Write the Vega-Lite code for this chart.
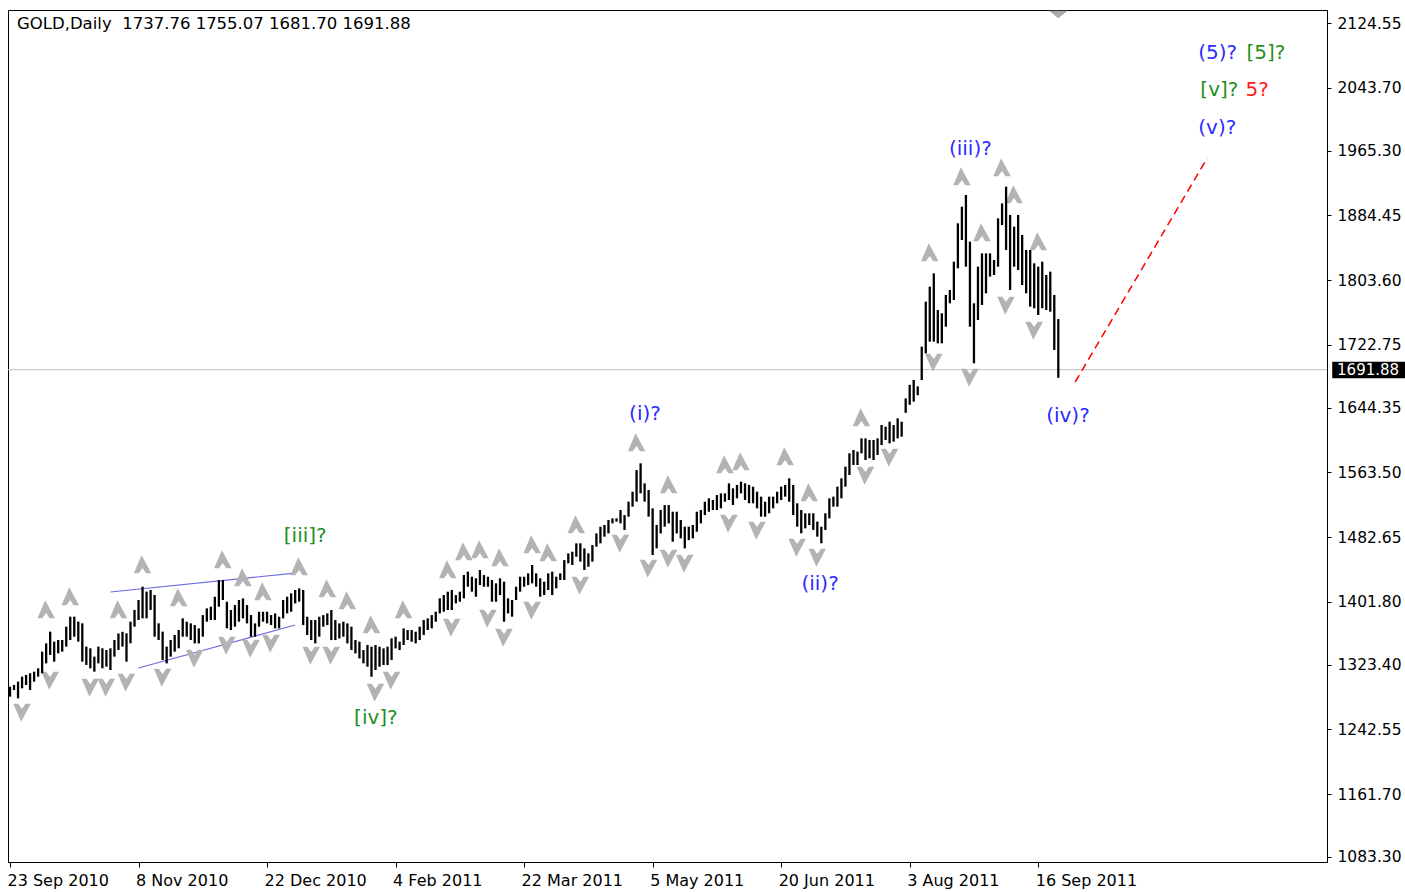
{
"$schema":"https://vega.github.io/schema/vega-lite/v6.json",
"width":1319,"height":852,"autosize":"none",
"padding":{"left":8,"top":10,"right":78,"bottom":30},
"background":"white",
"config":{"view":{"stroke":"#000","strokeWidth":1},"axis":{"grid":false,"domainColor":"#000","tickColor":"#000","labelColor":"#000","labelFont":"DejaVu Sans","labelFontSize":15}},
"datasets":{
"bars":[
{"i":0,"high":1296.0,"price":1283.5},{"i":1,"high":1298.1,"price":1291.8},{"i":2,"high":1302.3,"price":1281.4},{"i":3,"high":1308.5,"price":1293.9},{"i":4,"high":1310.6,"price":1298.1},{"i":5,"high":1312.7,"price":1291.8},{"i":6,"high":1314.7,"price":1302.3},{"i":7,"high":1318.9,"price":1308.5},{"i":8,"high":1339.7,"price":1312.7},{"i":9,"high":1350.1,"price":1325.1},
{"i":10,"high":1364.7,"price":1335.6},{"i":11,"high":1352.2,"price":1327.2},{"i":12,"high":1354.3,"price":1337.6},{"i":13,"high":1354.3,"price":1339.7},{"i":14,"high":1370.9,"price":1346.0},{"i":15,"high":1383.4,"price":1354.3},{"i":16,"high":1383.4,"price":1358.4},{"i":17,"high":1377.2,"price":1352.2},{"i":18,"high":1375.1,"price":1327.2},{"i":19,"high":1346.0,"price":1323.1},
{"i":20,"high":1343.9,"price":1318.9},{"i":21,"high":1333.5,"price":1314.7},{"i":22,"high":1346.0,"price":1325.1},{"i":23,"high":1343.9,"price":1318.9},{"i":24,"high":1341.8,"price":1321.0},{"i":25,"high":1343.9,"price":1316.8},{"i":26,"high":1354.3,"price":1333.5},{"i":27,"high":1362.4,"price":1341.8},{"i":28,"high":1364.5,"price":1346.0},{"i":29,"high":1362.6,"price":1327.2},
{"i":30,"high":1377.2,"price":1350.1},{"i":31,"high":1391.8,"price":1370.9},{"i":32,"high":1404.2,"price":1379.3},{"i":33,"high":1420.9,"price":1381.3},{"i":34,"high":1414.7,"price":1381.3},{"i":35,"high":1416.7,"price":1391.8},{"i":36,"high":1410.5,"price":1358.4},{"i":37,"high":1375.1,"price":1354.3},{"i":38,"high":1364.7,"price":1329.3},{"i":39,"high":1346.0,"price":1325.1},
{"i":40,"high":1354.3,"price":1333.5},{"i":41,"high":1360.5,"price":1339.7},{"i":42,"high":1366.8,"price":1343.9},{"i":43,"high":1381.3,"price":1358.4},{"i":44,"high":1377.1,"price":1358.4},{"i":45,"high":1375.0,"price":1354.2},{"i":46,"high":1372.9,"price":1350.0},{"i":47,"high":1368.8,"price":1350.0},{"i":48,"high":1385.4,"price":1358.4},{"i":49,"high":1393.8,"price":1377.1},
{"i":50,"high":1395.8,"price":1379.2},{"i":51,"high":1408.3,"price":1379.2},{"i":52,"high":1429.1,"price":1395.8},{"i":53,"high":1429.1,"price":1404.2},{"i":54,"high":1402.1,"price":1368.8},{"i":55,"high":1391.7,"price":1366.7},{"i":56,"high":1397.9,"price":1370.9},{"i":57,"high":1404.2,"price":1377.1},{"i":58,"high":1406.2,"price":1381.3},{"i":59,"high":1397.9,"price":1375.0},
{"i":60,"high":1385.4,"price":1358.4},{"i":61,"high":1375.0,"price":1358.4},{"i":62,"high":1389.6,"price":1370.9},{"i":63,"high":1389.6,"price":1377.1},{"i":64,"high":1389.6,"price":1375.0},{"i":65,"high":1385.4,"price":1372.9},{"i":66,"high":1387.5,"price":1368.8},{"i":67,"high":1383.3,"price":1368.8},{"i":68,"high":1404.2,"price":1381.3},{"i":69,"high":1408.3,"price":1387.5},
{"i":70,"high":1412.5,"price":1389.6},{"i":71,"high":1416.7,"price":1400.0},{"i":72,"high":1418.7,"price":1402.1},{"i":73,"high":1416.7,"price":1372.9},{"i":74,"high":1383.3,"price":1360.5},{"i":75,"high":1379.2,"price":1354.2},{"i":76,"high":1379.2,"price":1350.0},{"i":77,"high":1383.3,"price":1358.4},{"i":78,"high":1385.4,"price":1370.9},{"i":79,"high":1387.5,"price":1372.9},
{"i":80,"high":1391.7,"price":1354.2},{"i":81,"high":1379.2,"price":1354.2},{"i":82,"high":1375.0,"price":1356.3},{"i":83,"high":1377.1,"price":1358.4},{"i":84,"high":1375.0,"price":1350.0},{"i":85,"high":1370.9,"price":1341.7},{"i":86,"high":1354.2,"price":1337.5},{"i":87,"high":1352.1,"price":1331.3},{"i":88,"high":1341.7,"price":1325.1},{"i":89,"high":1348.0,"price":1320.9},
{"i":90,"high":1345.9,"price":1308.4},{"i":91,"high":1348.0,"price":1316.8},{"i":92,"high":1345.9,"price":1320.9},{"i":93,"high":1343.8,"price":1323.0},{"i":94,"high":1345.9,"price":1323.0},{"i":95,"high":1356.3,"price":1329.2},{"i":96,"high":1358.4,"price":1343.8},{"i":97,"high":1352.1,"price":1341.7},{"i":98,"high":1368.8,"price":1348.0},{"i":99,"high":1366.7,"price":1354.2},
{"i":100,"high":1366.7,"price":1352.1},{"i":101,"high":1364.6,"price":1350.0},{"i":102,"high":1370.9,"price":1354.2},{"i":103,"high":1379.2,"price":1360.5},{"i":104,"high":1381.3,"price":1366.7},{"i":105,"high":1385.4,"price":1368.8},{"i":106,"high":1389.6,"price":1377.1},{"i":107,"high":1406.3,"price":1387.5},{"i":108,"high":1410.4,"price":1389.6},{"i":109,"high":1414.6,"price":1391.7},
{"i":110,"high":1416.7,"price":1391.7},{"i":111,"high":1410.4,"price":1400.0},{"i":112,"high":1414.6,"price":1402.1},{"i":113,"high":1435.4,"price":1406.3},{"i":114,"high":1439.6,"price":1420.8},{"i":115,"high":1433.3,"price":1414.6},{"i":116,"high":1431.3,"price":1408.3},{"i":117,"high":1441.7,"price":1422.9},{"i":118,"high":1435.4,"price":1420.8},{"i":119,"high":1433.3,"price":1420.8},
{"i":120,"high":1429.2,"price":1402.1},{"i":121,"high":1425.0,"price":1402.1},{"i":122,"high":1431.3,"price":1410.4},{"i":123,"high":1427.1,"price":1377.1},{"i":124,"high":1406.3,"price":1387.5},{"i":125,"high":1404.2,"price":1383.4},{"i":126,"high":1420.8,"price":1404.2},{"i":127,"high":1433.3,"price":1414.6},{"i":128,"high":1433.3,"price":1420.8},{"i":129,"high":1437.5,"price":1422.9},
{"i":130,"high":1447.9,"price":1425.0},{"i":131,"high":1437.5,"price":1420.8},{"i":132,"high":1431.3,"price":1408.3},{"i":133,"high":1427.1,"price":1410.4},{"i":134,"high":1437.5,"price":1416.7},{"i":135,"high":1439.6,"price":1410.4},{"i":136,"high":1433.3,"price":1418.8},{"i":137,"high":1437.5,"price":1429.2},{"i":138,"high":1454.1,"price":1429.2},{"i":139,"high":1462.5,"price":1450.0},
{"i":140,"high":1464.5,"price":1447.9},{"i":141,"high":1475.0,"price":1458.3},{"i":142,"high":1475.0,"price":1452.1},{"i":143,"high":1468.7,"price":1441.7},{"i":144,"high":1462.5,"price":1445.8},{"i":145,"high":1472.9,"price":1452.1},{"i":146,"high":1487.4,"price":1470.8},{"i":147,"high":1495.8,"price":1475.0},{"i":148,"high":1497.9,"price":1483.3},{"i":149,"high":1504.1,"price":1487.4},
{"i":150,"high":1506.2,"price":1499.9},{"i":151,"high":1506.2,"price":1502.0},{"i":152,"high":1516.6,"price":1499.9},{"i":153,"high":1510.3,"price":1491.6},{"i":154,"high":1527.0,"price":1508.3},{"i":155,"high":1539.5,"price":1520.8},{"i":156,"high":1566.5,"price":1527.0},{"i":157,"high":1574.9,"price":1537.4},{"i":158,"high":1549.9,"price":1527.0},{"i":159,"high":1541.6,"price":1508.3},
{"i":160,"high":1518.7,"price":1460.4},{"i":161,"high":1497.9,"price":1468.7},{"i":162,"high":1516.6,"price":1487.4},{"i":163,"high":1522.8,"price":1495.8},{"i":164,"high":1522.8,"price":1499.9},{"i":165,"high":1514.5,"price":1477.0},{"i":166,"high":1514.5,"price":1487.4},{"i":167,"high":1504.1,"price":1481.2},{"i":168,"high":1495.8,"price":1468.7},{"i":169,"high":1495.8,"price":1479.1},
{"i":170,"high":1497.9,"price":1481.2},{"i":171,"high":1514.5,"price":1489.5},{"i":172,"high":1516.6,"price":1499.9},{"i":173,"high":1527.0,"price":1510.3},{"i":174,"high":1531.2,"price":1514.5},{"i":175,"high":1529.1,"price":1516.6},{"i":176,"high":1535.3,"price":1516.6},{"i":177,"high":1537.4,"price":1518.7},{"i":178,"high":1537.4,"price":1527.0},{"i":179,"high":1549.9,"price":1529.1},
{"i":180,"high":1543.7,"price":1522.9},{"i":181,"high":1547.9,"price":1531.2},{"i":182,"high":1552.0,"price":1537.4},{"i":183,"high":1549.9,"price":1529.1},{"i":184,"high":1547.9,"price":1525.0},{"i":185,"high":1545.8,"price":1525.0},{"i":186,"high":1539.5,"price":1518.7},{"i":187,"high":1533.3,"price":1508.3},{"i":188,"high":1527.0,"price":1508.3},{"i":189,"high":1533.3,"price":1512.5},
{"i":190,"high":1533.3,"price":1518.7},{"i":191,"high":1539.5,"price":1525.0},{"i":192,"high":1545.8,"price":1529.1},{"i":193,"high":1547.9,"price":1533.3},{"i":194,"high":1556.2,"price":1527.0},{"i":195,"high":1547.9,"price":1510.4},{"i":196,"high":1525.0,"price":1495.8},{"i":197,"high":1516.6,"price":1487.5},{"i":198,"high":1512.5,"price":1493.7},{"i":199,"high":1512.5,"price":1497.9},
{"i":200,"high":1512.5,"price":1491.7},{"i":201,"high":1502.1,"price":1483.3},{"i":202,"high":1495.8,"price":1475.0},{"i":203,"high":1512.5,"price":1491.7},{"i":204,"high":1531.2,"price":1506.2},{"i":205,"high":1533.3,"price":1520.8},{"i":206,"high":1545.8,"price":1520.8},{"i":207,"high":1556.2,"price":1531.2},{"i":208,"high":1570.7,"price":1545.8},{"i":209,"high":1587.4,"price":1560.3},
{"i":210,"high":1591.6,"price":1572.8},{"i":211,"high":1589.5,"price":1572.8},{"i":212,"high":1606.1,"price":1587.4},{"i":213,"high":1606.1,"price":1579.1},{"i":214,"high":1604.1,"price":1581.2},{"i":215,"high":1604.1,"price":1579.1},{"i":216,"high":1606.1,"price":1585.3},{"i":217,"high":1622.8,"price":1597.8},{"i":218,"high":1620.7,"price":1604.1},{"i":219,"high":1626.9,"price":1599.9},
{"i":220,"high":1622.8,"price":1602.0},{"i":221,"high":1631.1,"price":1606.1},{"i":222,"high":1626.9,"price":1608.2},{"i":223,"high":1656.0,"price":1638.0},{"i":224,"high":1673.0,"price":1648.0},{"i":225,"high":1679.0,"price":1652.0},{"i":226,"high":1671.0,"price":1660.0},{"i":227,"high":1720.6,"price":1679.0},{"i":228,"high":1776.8,"price":1712.3},{"i":229,"high":1795.6,"price":1726.9},
{"i":230,"high":1812.2,"price":1726.9},{"i":231,"high":1766.4,"price":1724.8},{"i":232,"high":1762.3,"price":1724.8},{"i":233,"high":1785.2,"price":1745.6},{"i":234,"high":1791.4,"price":1774.8},{"i":235,"high":1826.8,"price":1778.9},{"i":236,"high":1874.7,"price":1818.5},{"i":237,"high":1895.5,"price":1853.9},{"i":238,"high":1910.0,"price":1820.5},{"i":239,"high":1851.8,"price":1745.6},
{"i":240,"high":1774.8,"price":1699.8},{"i":241,"high":1820.5,"price":1753.9},{"i":242,"high":1837.2,"price":1772.7},{"i":243,"high":1837.2,"price":1787.3},{"i":244,"high":1837.2,"price":1808.1},{"i":245,"high":1828.9,"price":1810.1},{"i":246,"high":1880.9,"price":1820.5},{"i":247,"high":1899.6,"price":1872.6},{"i":248,"high":1920.5,"price":1841.4},{"i":249,"high":1885.1,"price":1791.4},
{"i":250,"high":1870.5,"price":1820.5},{"i":251,"high":1885.1,"price":1816.4},{"i":252,"high":1860.1,"price":1797.6},{"i":253,"high":1841.4,"price":1787.3},{"i":254,"high":1841.4,"price":1770.6},{"i":255,"high":1824.7,"price":1768.5},{"i":256,"high":1820.5,"price":1760.2},{"i":257,"high":1826.8,"price":1768.5},{"i":258,"high":1810.1,"price":1766.4},{"i":259,"high":1814.3,"price":1764.3},
{"i":260,"high":1785.2,"price":1716.5},{"i":261,"high":1755.07,"price":1681.70}
],
"frac":[
{"i":9,"price":1391.7,"t":"up"},{"i":15,"price":1407.9,"t":"up"},{"i":27,"price":1391.7,"t":"up"},{"i":33,"price":1447.9,"t":"up"},{"i":42,"price":1406.7,"t":"up"},{"i":53,"price":1454.2,"t":"up"},{"i":58,"price":1431.7,"t":"up"},{"i":63,"price":1414.2,"t":"up"},{"i":72,"price":1445.4,"t":"up"},{"i":79,"price":1418.0,"t":"up"},{"i":84,"price":1402.9,"t":"up"},{"i":90,"price":1373.0,"t":"up"},{"i":98,"price":1391.7,"t":"up"},{"i":109,"price":1441.7,"t":"up"},{"i":113,"price":1464.1,"t":"up"},{"i":117,"price":1466.6,"t":"up"},{"i":122,"price":1456.7,"t":"up"},{"i":130,"price":1472.9,"t":"up"},{"i":134,"price":1462.9,"t":"up"},{"i":141,"price":1497.9,"t":"up"},{"i":156,"price":1600.3,"t":"up"},{"i":164,"price":1547.9,"t":"up"},{"i":178,"price":1572.8,"t":"up"},{"i":182,"price":1576.6,"t":"up"},{"i":193,"price":1582.8,"t":"up"},{"i":199,"price":1537.9,"t":"up"},{"i":212,"price":1631.5,"t":"up"},{"i":229,"price":1837.6,"t":"up"},{"i":237,"price":1932.5,"t":"up"},{"i":242,"price":1862.6,"t":"up"},{"i":247,"price":1943.8,"t":"up"},{"i":250,"price":1910.0,"t":"up"},{"i":256,"price":1851.3,"t":"up"},
{"i":3,"price":1264.3,"t":"down"},{"i":10,"price":1304.3,"t":"down"},{"i":20,"price":1295.5,"t":"down"},{"i":24,"price":1295.5,"t":"down"},{"i":29,"price":1301.8,"t":"down"},{"i":38,"price":1308.0,"t":"down"},{"i":46,"price":1331.8,"t":"down"},{"i":54,"price":1348.0,"t":"down"},{"i":60,"price":1344.2,"t":"down"},{"i":65,"price":1350.5,"t":"down"},{"i":75,"price":1335.5,"t":"down"},{"i":80,"price":1335.5,"t":"down"},{"i":91,"price":1289.3,"t":"down"},{"i":95,"price":1304.3,"t":"down"},{"i":110,"price":1370.5,"t":"down"},{"i":119,"price":1381.7,"t":"down"},{"i":123,"price":1358.0,"t":"down"},{"i":130,"price":1391.7,"t":"down"},{"i":142,"price":1423.0,"t":"down"},{"i":152,"price":1475.4,"t":"down"},{"i":159,"price":1444.2,"t":"down"},{"i":164,"price":1456.7,"t":"down"},{"i":168,"price":1450.4,"t":"down"},{"i":179,"price":1500.4,"t":"down"},{"i":186,"price":1491.6,"t":"down"},{"i":196,"price":1470.4,"t":"down"},{"i":201,"price":1457.9,"t":"down"},{"i":213,"price":1560.3,"t":"down"},{"i":219,"price":1582.8,"t":"down"},{"i":230,"price":1701.5,"t":"down"},{"i":239,"price":1682.7,"t":"down"},{"i":248,"price":1772.7,"t":"down"},{"i":255,"price":1741.4,"t":"down"}
],
"waves":[
{"i":73.5,"price":1484.1,"t":"[iii]?","d":"minor"},
{"i":91.1,"price":1256.8,"t":"[iv]?","d":"minor"},
{"i":158.1,"price":1636.5,"t":"(i)?","d":"minute"},
{"i":201.7,"price":1424.2,"t":"(ii)?","d":"minute"},
{"i":239.1,"price":1967.5,"t":"(iii)?","d":"minute"},
{"i":263.4,"price":1634.0,"t":"(iv)?","d":"minute"},
{"i":300.6,"price":1993.7,"t":"(v)?","d":"minute"},
{"i":301.1,"price":2041.2,"t":"[v]?","d":"minor"},
{"i":310.5,"price":2041.2,"t":"5?","d":"intermediate"},
{"i":300.7,"price":2087.4,"t":"(5)?","d":"minute"},
{"i":312.7,"price":2087.4,"t":"[5]?","d":"minor"}
],
"channel":[
{"id":"upper","i":25,"price":1414.2},{"id":"upper","i":71,"price":1437.9},
{"id":"lower","i":32,"price":1319.3},{"id":"lower","i":71,"price":1373.0}
],
"proj":[{"i":265.2,"price":1676.5},{"i":298.1,"price":1956.3}],
"last":[{"i":-0.5,"price":1691.88},{"i":327.9,"price":1691.88}]
},
"encoding":{
 "x":{"field":"i","type":"quantitative","scale":{"domain":[-0.5,327.9],"nice":false,"zero":false},
   "axis":{"orient":"bottom","title":null,"values":[0,32,64,96,128,160,192,224,256],
    "labelExpr":"['23 Sep 2010','8 Nov 2010','22 Dec 2010','4 Feb 2011','22 Mar 2011','5 May 2011','20 Jun 2011','3 Aug 2011','16 Sep 2011'][round(datum.value/32)]",
    "labelAlign":"left","labelOffset":-3,"tickSize":5,"labelPadding":5,"labelBaseline":"top","labelOverlap":false,"labelFontSize":16}},
 "y":{"field":"price","type":"quantitative","scale":{"domain":[1077.0,2141.1],"nice":false,"zero":false},
   "axis":{"orient":"right","title":null,"values":[1083.30,1161.70,1242.55,1323.40,1401.80,1482.65,1563.50,1644.35,1722.75,1803.60,1884.45,1965.30,2043.70,2124.55],
    "format":".2f","tickSize":4,"labelPadding":6,"labelOverlap":false,"labelFontSize":15.5}}
},
"layer":[
{"data":{"name":"last"},"mark":{"type":"line","color":"#c0c0c0","strokeWidth":1}},
{"data":{"name":"channel"},"mark":{"type":"line","color":"#6b6be0","strokeWidth":1.2},"encoding":{"detail":{"field":"id","type":"nominal"}}},
{"data":{"name":"proj"},"mark":{"type":"line","color":"#ff0000","strokeWidth":1.5,"strokeDash":[8,5]}},
{"data":{"name":"frac"},"transform":[{"filter":"datum.t === 'up'"}],
 "mark":{"type":"point","shape":"M-0.1,-1L0.9,0.85L0.35,0.85L0,0.3L-0.4,0.85L-0.9,0.85Z","filled":true,"color":"#b3b3b3","size":380,"opacity":1,"strokeWidth":0}},
{"data":{"name":"frac"},"transform":[{"filter":"datum.t === 'down'"}],
 "mark":{"type":"point","shape":"M-0.1,1L0.9,-0.85L0.35,-0.85L0,-0.3L-0.4,-0.85L-0.9,-0.85Z","filled":true,"color":"#b3b3b3","size":380,"opacity":1,"strokeWidth":0}},
{"data":{"name":"bars"},"mark":{"type":"rule","color":"#000","strokeWidth":2.3},"encoding":{"y2":{"field":"high"}}},
{"data":{"name":"waves"},
 "mark":{"type":"text","font":"DejaVu Sans","fontSize":20,"align":"center","baseline":"middle"},
 "encoding":{"text":{"field":"t"},
  "color":{"field":"d","type":"nominal","scale":{"domain":["minute","minor","intermediate"],"range":["#2b2bff","#1f8f1f","#ff1a1a"]},"legend":null}}},
{"data":{"values":[{"i":1.74,"price":2123.0,"t":"GOLD,Daily\u00a0\u00a01737.76 1755.07 1681.70 1691.88"}]},
 "mark":{"type":"text","font":"DejaVu Sans","fontSize":16.5,"align":"left","baseline":"middle","color":"#000"},
 "encoding":{"text":{"field":"t"}}},
{"data":{"values":[{"i":261.0,"price":2135.5}]},
 "mark":{"type":"point","shape":"M-1,-0.4L1,-0.4L0,0.4Z","filled":true,"color":"#a9a9a9","size":360,"opacity":1,"strokeWidth":0}},
{"data":{"values":[{"i":329.2,"i2":347.4,"price":1701.8,"price2":1681.1}]},
 "mark":{"type":"rect","color":"#000"},
 "encoding":{"x2":{"field":"i2"},"y2":{"field":"price2"}}},
{"data":{"values":[{"i":330.4,"price":1691.88,"t":"1691.88"}]},
 "mark":{"type":"text","font":"DejaVu Sans","fontSize":15,"align":"left","baseline":"middle","color":"#fff"},
 "encoding":{"text":{"field":"t"}}}
]
}
